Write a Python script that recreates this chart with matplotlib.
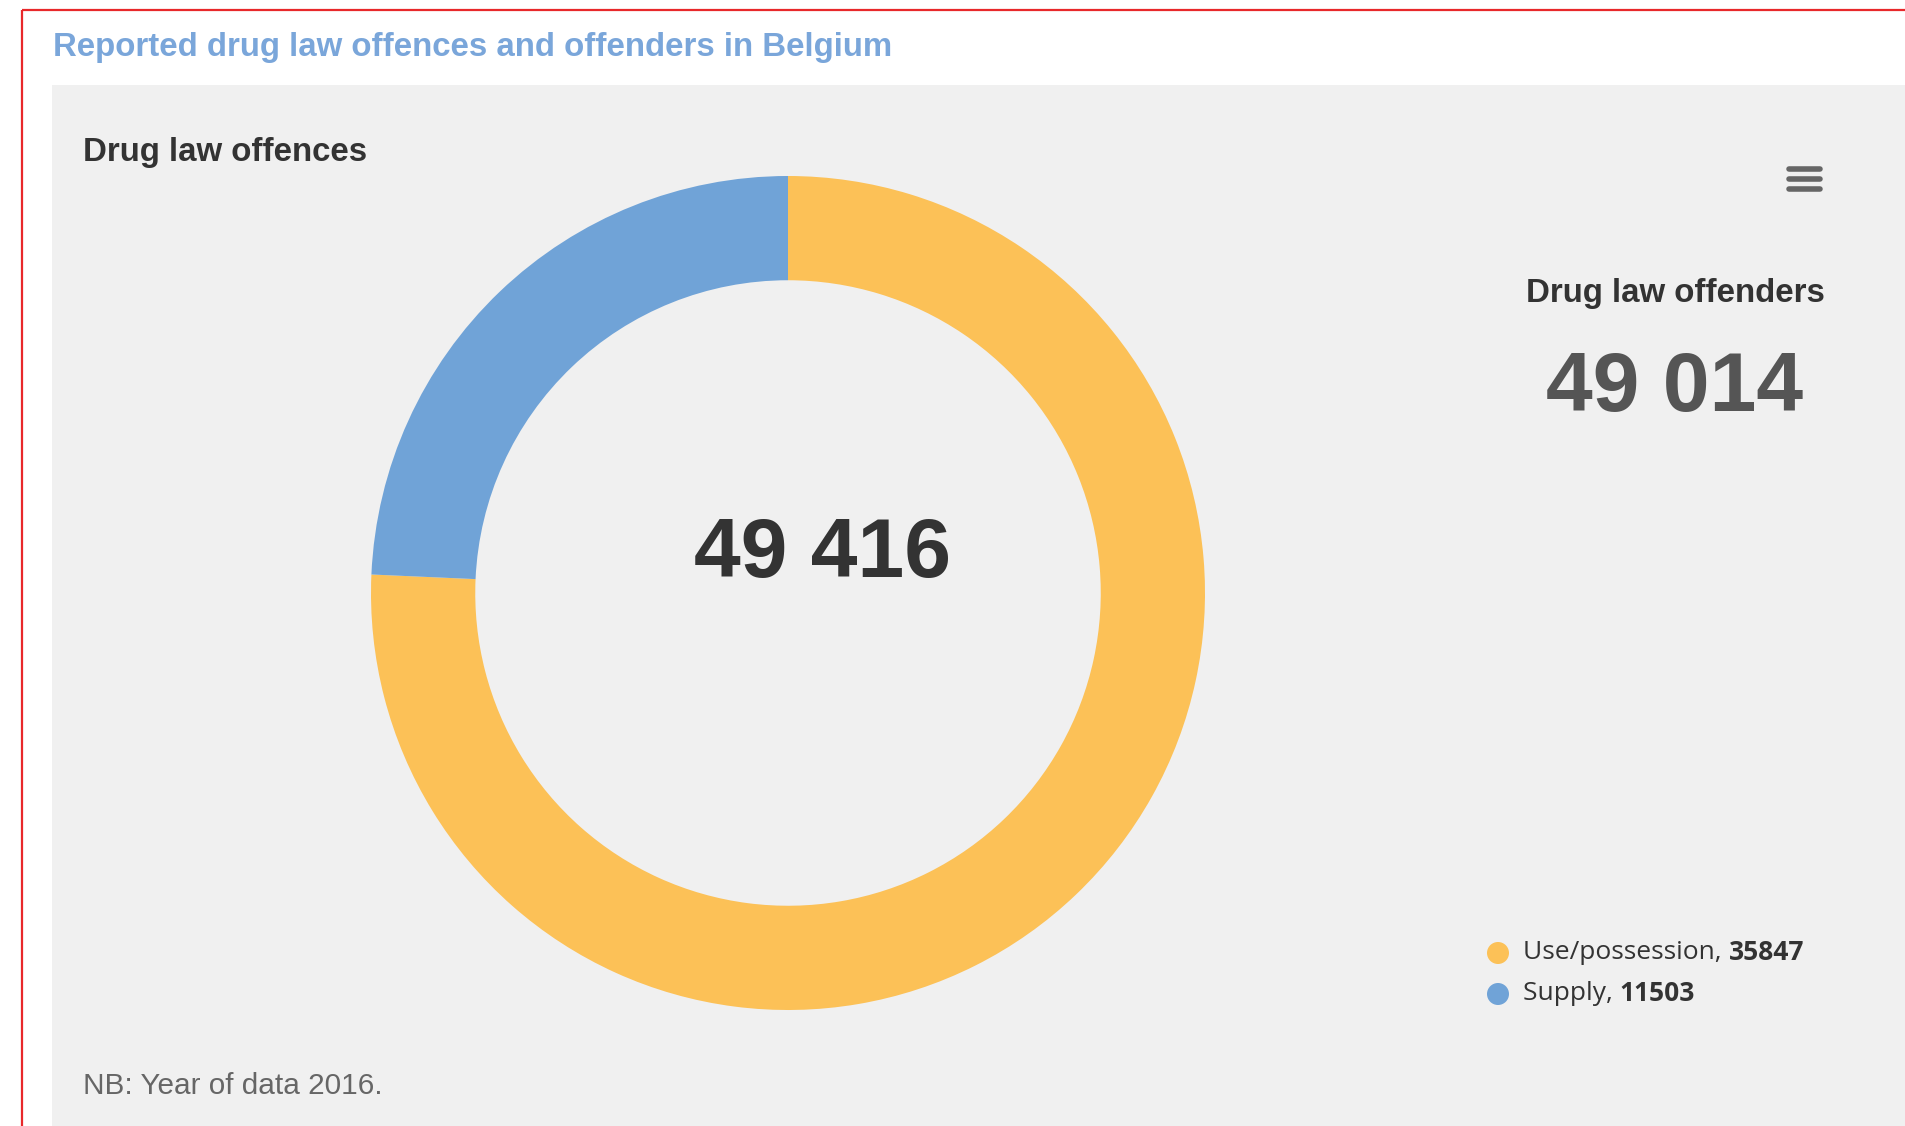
import matplotlib
matplotlib.use("Agg")
import matplotlib.pyplot as plt
from matplotlib.patches import Rectangle, Circle

# data
categories = ["Use/possession", "Supply"]
values = [35847, 11503]
colors = ["#FCC157", "#70A3D7"]
total_offences = "49 416"
total_offenders = "49 014"
title = "Reported drug law offences and offenders in Belgium"
note = "NB: Year of data 2016."

W, H = 1906, 1126
plt.rcParams['font.family'] = ['Liberation Sans', 'DejaVu Sans']
LEG_FONT = ["Open Sans", "DejaVu Sans"]

fig = plt.figure(figsize=(W / 100, H / 100), dpi=100)
fig.patch.set_facecolor("white")

# background layer in pixel coords (y down)
bg = fig.add_axes([0, 0, 1, 1])
bg.set_xlim(0, W)
bg.set_ylim(H, 0)
bg.set_aspect("equal")
bg.axis("off")

bg.add_patch(Rectangle((52, 85), W - 52, H - 85, facecolor="#F0F0F0", edgecolor="none"))
bg.plot([22, W], [10, 10], color="#E8282B", lw=1.6, solid_capstyle="butt")
bg.plot([22, 22], [10, H], color="#E8282B", lw=1.6, solid_capstyle="butt")

bg.text(53, 47, title, fontsize=23.8, fontweight="bold", color="#7AA6DA", va="center", ha="left")
bg.text(83, 152, "Drug law offences", fontsize=23.8, fontweight="bold", color="#333333", va="center")
bg.text(1675, 293, "Drug law offenders", fontsize=23.8, fontweight="bold", color="#333333",
        va="center", ha="center")
bg.text(1675, 389, total_offenders, fontsize=60.5, fontweight="bold", color="#555555",
        va="center", ha="center")
bg.text(83, 1086, note, fontsize=21.4, color="#666666", va="center")

# hamburger menu icon
for yy in (169, 179, 189):
    bg.plot([1789, 1820], [yy, yy], color="#666666", lw=4, solid_capstyle="round")

# legend
fig.canvas.draw()
renderer = fig.canvas.get_renderer()
for i, (cat, val) in enumerate(zip(categories, values)):
    y = 953 + i * 41
    bg.add_patch(Circle((1498, y), 11, facecolor=colors[i], edgecolor="none"))
    t = bg.text(1523, y, f"{cat}, ", fontsize=19, color="#333333", va="center",
                family=LEG_FONT)
    bb = t.get_window_extent(renderer)
    bg.text(bb.x1, y, str(val), fontsize=19, fontweight="bold", color="#333333",
            va="center", family=LEG_FONT)

# donut
cx, cy, R = 788, 593, 417
ax = fig.add_axes([(cx - R) / W, (H - cy - R) / H, 2 * R / W, 2 * R / H])
ax.pie(values, colors=colors, startangle=90, counterclock=False, radius=1,
       wedgeprops=dict(width=0.25, edgecolor="none"))
ax.set_xlim(-1, 1)
ax.set_ylim(-1, 1)
ax.set_aspect("equal")
ax.axis("off")

bg.text(823, 555, total_offences, fontsize=60.5, fontweight="bold", color="#333333",
        va="center", ha="center")

fig.savefig("out.png", dpi=100, facecolor="white")
